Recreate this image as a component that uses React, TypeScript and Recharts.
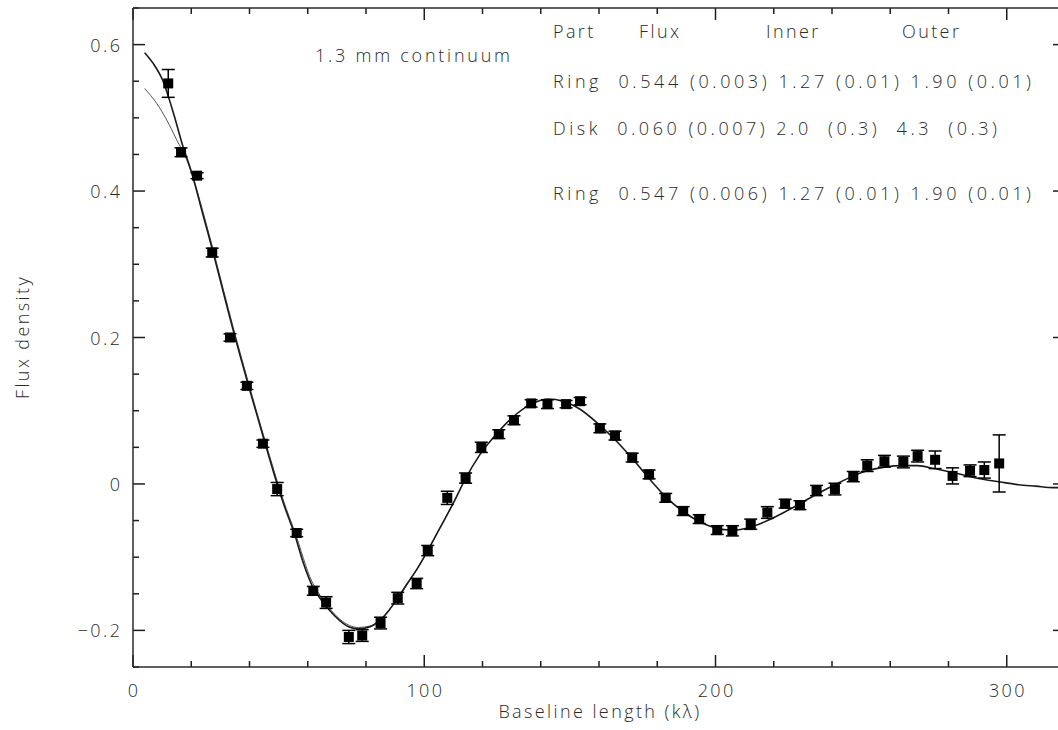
import { ComposedChart, XAxis, YAxis, Line, Scatter, ErrorBar, ReferenceLine } from 'recharts'

// visibility samples: baseline (kλ), flux density, 1σ error
const baseline = [
  12.1, 16.5, 22.0, 27.2, 33.3, 39.1, 44.6, 49.5, 56.2, 61.9, 66.3, 74.1, 78.7, 85.0, 90.9, 97.4, 101.2,
  107.9, 114.2, 119.6, 125.6, 130.8, 136.7, 142.3, 148.7, 153.5, 160.3, 165.5, 171.4, 177.2, 182.9, 188.9,
  194.4, 200.6, 205.8, 212.1, 217.8, 223.9, 229.0, 234.7, 241.0, 247.3, 252.1, 258.0, 264.5, 269.4, 275.4,
  281.4, 287.4, 292.3, 297.4,
]
const flux = [
  0.547, 0.453, 0.421, 0.316, 0.2, 0.134, 0.055, -0.007, -0.067, -0.146, -0.162, -0.209, -0.207, -0.19,
  -0.156, -0.136, -0.091, -0.019, 0.008, 0.05, 0.068, 0.087, 0.11, 0.109, 0.109, 0.113, 0.076, 0.066, 0.036,
  0.013, -0.019, -0.037, -0.048, -0.063, -0.064, -0.055, -0.039, -0.027, -0.029, -0.009, -0.007, 0.01, 0.025,
  0.031, 0.03, 0.038, 0.033, 0.011, 0.018, 0.019, 0.028,
]
const fluxErr = [
  0.019, 0.006, 0.004, 0.006, 0.005, 0.005, 0.005, 0.009, 0.005, 0.006, 0.008, 0.009, 0.008, 0.008, 0.008,
  0.007, 0.007, 0.009, 0.007, 0.007, 0.006, 0.006, 0.005, 0.006, 0.005, 0.005, 0.006, 0.006, 0.006, 0.006,
  0.006, 0.006, 0.006, 0.006, 0.007, 0.007, 0.008, 0.006, 0.006, 0.007, 0.008, 0.007, 0.008, 0.008, 0.008,
  0.008, 0.012, 0.011, 0.008, 0.011, 0.039,
]

// ring + disk model
const ringDiskX = [
  4, 7, 10, 14, 17, 20, 24, 27, 31, 34.4, 37, 39.6, 42.5, 45.3, 48.5, 51.6, 55.6, 58.5, 61.4, 65.3, 68, 71.1,
  74, 77.4, 81.4, 84.8, 88, 90.9, 94, 97.4, 101.2, 105.4, 110, 114, 119.1, 125.4, 130.6, 136.3, 142.6, 147.7,
  153.5, 160.3, 166.1, 171.8, 177.5, 183, 189, 194.7, 200, 205.6, 212, 217.8, 223.9, 229, 234.7, 241, 247.3,
  252, 258, 264, 269.4, 275, 281, 287.4, 292.3, 297.4, 304, 310, 316, 320,
]
const ringDiskY = [
  0.589, 0.574, 0.553, 0.505, 0.463, 0.427, 0.368, 0.324, 0.262, 0.21, 0.172, 0.135, 0.095, 0.056, 0.013,
  -0.026, -0.07, -0.108, -0.138, -0.162, -0.175, -0.187, -0.195, -0.198, -0.195, -0.186, -0.172, -0.156,
  -0.137, -0.117, -0.091, -0.06, -0.026, 0.006, 0.04, 0.071, 0.092, 0.108, 0.116, 0.113, 0.102, 0.08, 0.058,
  0.033, 0.006, -0.018, -0.038, -0.052, -0.06, -0.063, -0.059, -0.05, -0.038, -0.027, -0.014, -0.001, 0.011,
  0.018, 0.023, 0.025, 0.025, 0.021, 0.016, 0.01, 0.006, 0.003, -0.001, -0.003, -0.005, -0.005,
]

// ring-only model (merges with the ring + disk curve past ~110 kλ)
const ringX = [
  4, 8.1, 11.6, 15, 18.4, 21.3, 23.6, 27, 31, 34.4, 39.6, 45.3, 51.6, 55.6, 61.4, 65.3, 71.1, 77.4, 81.4,
  84.8, 90.9, 97.4, 101.2, 105.4, 110,
]
const ringY = [
  0.54, 0.52, 0.497, 0.47, 0.443, 0.41, 0.378, 0.328, 0.266, 0.214, 0.139, 0.06, -0.022, -0.066, -0.133,
  -0.158, -0.185, -0.196, -0.194, -0.186, -0.156, -0.117, -0.091, -0.06, -0.026,
]

const xTicks = [0, 20, 40, 60, 80, 100, 120, 140, 160, 180, 200, 220, 240, 260, 280, 300, 320]
const yTicks = [
  -0.25, -0.2, -0.15, -0.1, -0.05, 0, 0.05, 0.1, 0.15, 0.2, 0.25, 0.3, 0.35, 0.4, 0.45, 0.5, 0.55, 0.6, 0.65,
]

const tableHead = ['Part', 'Flux', 'Inner', 'Outer']
const tableRows = [
  'Ring  0.544 (0.003) 1.27 (0.01) 1.90 (0.01)',
  'Disk  0.060 (0.007) 2.0  (0.3)  4.3  (0.3)',
  'Ring  0.547 (0.006) 1.27 (0.01) 1.90 (0.01)',
]

const points = baseline.map((x, i) => ({ x, y: flux[i], err: fluxErr[i] }))
const ringDisk = ringDiskX.map((x, i) => ({ x, y: ringDiskY[i] }))
const ring = ringX.map((x, i) => ({ x, y: ringY[i] }))

const FONT = '"Open Sans", "DejaVu Sans", sans-serif'
const INK = '#2b2b2b'
const TICK = '#1e1e1e'
const SPACING = 2.4
const FS = 18

const X_DOMAIN: [number, number] = [0, 320]
const Y_DOMAIN: [number, number] = [-0.25, 0.65]

// chart geometry
const CHART_W = 1080
const CHART_H = 730
const MARGIN = { top: 7, right: 14, bottom: 23, left: 73 }
const LEFT_W = 60
const BOTTOM_H = 40
const PLOT_W = CHART_W - MARGIN.left - MARGIN.right - LEFT_W - 1
const PLOT_H = CHART_H - MARGIN.top - MARGIN.bottom - BOTTOM_H - 1

// inward tick lengths (12px major, 6px minor) in axis units
const xPerPx = (X_DOMAIN[1] - X_DOMAIN[0]) / PLOT_W
const yPerPx = (Y_DOMAIN[1] - Y_DOMAIN[0]) / PLOT_H

// overlay text layout
const headX = [553, 639, 766, 902]
const headBase = 38
const rowBase = [88, 135, 200]
const rowWidth = [478, 444, 478]

const isMajorX = (v: number) => v % 100 === 0
const isMajorY = (v: number) => Math.abs(v / 0.2 - Math.round(v / 0.2)) < 1e-6
const fmtY = (v: number) => (Math.abs(v) < 1e-9 ? '0' : v < 0 ? '\u2212' + Math.abs(v).toFixed(1) : v.toFixed(1))

const textStyle = { fontFamily: FONT, fontSize: FS, fontWeight: 300, letterSpacing: SPACING, fill: INK }

const BX_MARGIN = 14
const LY_MARGIN = 13

function BottomTick(props: any) {
  const { x, y, payload } = props
  const v = payload.value as number
  if (!isMajorX(v)) return <g />
  return (
    <text x={x + SPACING / 2} y={y + 9} textAnchor="middle" dominantBaseline="central" style={textStyle}>
      {v}
    </text>
  )
}

function LeftTick(props: any) {
  const { x, y, payload } = props
  const v = payload.value as number
  if (!isMajorY(v)) return <g />
  return (
    <text x={x + SPACING} y={y} textAnchor="end" dominantBaseline="central" style={textStyle}>
      {fmtY(v)}
    </text>
  )
}

const Square = (p: any) => <rect x={p.cx - 5} y={p.cy - 5} width={10} height={10} fill="#000" />

function tickMarks() {
  const marks: any[] = []
  xTicks.forEach((v) => {
    const d = (isMajorX(v) ? 12 : 6) * yPerPx
    marks.push(
      <ReferenceLine
        key={'b' + v}
        segment={[{ x: v, y: Y_DOMAIN[0] }, { x: v, y: Y_DOMAIN[0] + d }]}
        stroke={TICK}
        strokeWidth={1.5}
        ifOverflow="visible"
      />,
      <ReferenceLine
        key={'t' + v}
        segment={[{ x: v, y: Y_DOMAIN[1] }, { x: v, y: Y_DOMAIN[1] - d }]}
        stroke={TICK}
        strokeWidth={1.5}
        ifOverflow="visible"
      />
    )
  })
  yTicks.forEach((v) => {
    const d = (isMajorY(v) ? 12 : 6) * xPerPx
    marks.push(
      <ReferenceLine
        key={'l' + v}
        segment={[{ x: X_DOMAIN[0], y: v }, { x: X_DOMAIN[0] + d, y: v }]}
        stroke={TICK}
        strokeWidth={1.5}
        ifOverflow="visible"
      />,
      <ReferenceLine
        key={'r' + v}
        segment={[{ x: X_DOMAIN[1], y: v }, { x: X_DOMAIN[1] - d, y: v }]}
        stroke={TICK}
        strokeWidth={1.5}
        ifOverflow="visible"
      />
    )
  })
  return marks
}

export default function App() {
  const axisLine = { stroke: INK, strokeWidth: 1.5 }
  return (
    <div
      style={{
        position: 'fixed',
        left: 0,
        top: 0,
        width: 1058,
        height: 730,
        overflow: 'hidden',
        background: '#fff',
      }}
    >
      <ComposedChart width={CHART_W} height={CHART_H} margin={MARGIN}>
        <XAxis
          type="number"
          dataKey="x"
          domain={X_DOMAIN}
          ticks={xTicks}
          allowDataOverflow
          height={BOTTOM_H}
          axisLine={axisLine}
          tickLine={false}
          tickSize={0}
          tickMargin={BX_MARGIN}
          tick={BottomTick}
          interval={0}
        />
        <XAxis
          xAxisId="top"
          orientation="top"
          type="number"
          dataKey="x"
          domain={X_DOMAIN}
          allowDataOverflow
          height={1}
          axisLine={axisLine}
          tickLine={false}
          tick={false}
        />
        <YAxis
          type="number"
          domain={Y_DOMAIN}
          ticks={yTicks}
          allowDataOverflow
          width={LEFT_W}
          axisLine={axisLine}
          tickLine={false}
          tickSize={0}
          tickMargin={LY_MARGIN}
          tick={LeftTick}
          interval={0}
        />
        <YAxis
          yAxisId="right"
          orientation="right"
          type="number"
          domain={Y_DOMAIN}
          allowDataOverflow
          width={1}
          axisLine={axisLine}
          tickLine={false}
          tick={false}
        />

        {tickMarks()}

        {/* ring-only model, tied to the mirrored top/right axes (same domains) */}
        <Line
          xAxisId="top"
          yAxisId="right"
          data={ring}
          dataKey="y"
          type="monotone"
          stroke="#555"
          strokeWidth={1}
          dot={false}
          activeDot={false}
          isAnimationActive={false}
        />
        <Line
          data={ringDisk}
          dataKey="y"
          type="monotone"
          stroke="#1a1a1a"
          strokeWidth={1.6}
          dot={false}
          activeDot={false}
          isAnimationActive={false}
        />
        <Scatter data={points} dataKey="y" shape={Square} isAnimationActive={false}>
          <ErrorBar dataKey="err" direction="y" width={6.5} stroke="#000" strokeWidth={1.5} />
        </Scatter>
      </ComposedChart>

      <svg
        width={1058}
        height={730}
        style={{ position: 'absolute', left: 0, top: 0, pointerEvents: 'none' }}
      >
        <g style={{ fontFamily: FONT, fontSize: FS, fontWeight: 300, fill: INK }}>
          <text x={315} y={62} textLength={195} lengthAdjust="spacing">
            1.3 mm continuum
          </text>
          {tableHead.map((t, i) => (
            <text key={t} x={headX[i]} y={headBase} style={{ letterSpacing: SPACING }}>
              {t}
            </text>
          ))}
          {tableRows.map((row, r) => (
            <text
              key={r}
              x={553}
              y={rowBase[r]}
              textLength={rowWidth[r]}
              lengthAdjust="spacing"
              style={{ whiteSpace: 'pre' }}
            >
              {row}
            </text>
          ))}
          <text
            x={29}
            y={337}
            textAnchor="middle"
            transform="rotate(-90 29 337)"
            style={{ letterSpacing: SPACING }}
          >
            Flux density
          </text>
          <text x={600} y={718} textAnchor="middle" style={{ letterSpacing: SPACING }}>
            Baseline length (kλ)
          </text>
        </g>
      </svg>
    </div>
  )
}
